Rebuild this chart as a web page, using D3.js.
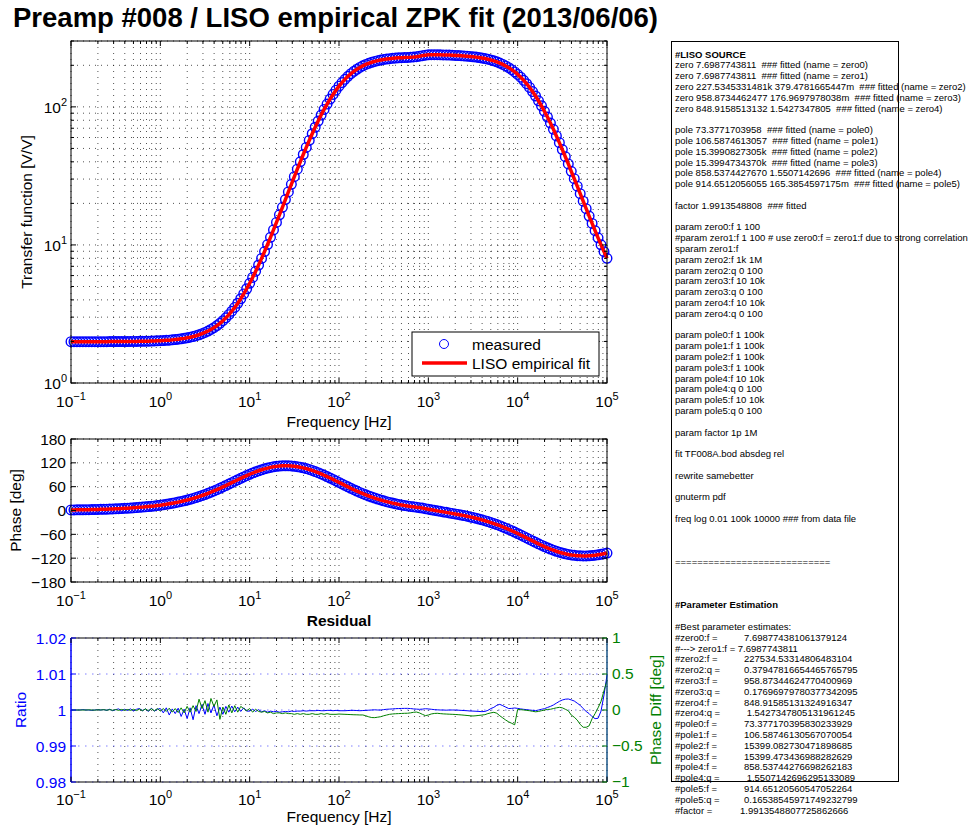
<!DOCTYPE html>
<html>
<head>
<meta charset="utf-8">
<script src="https://cdn.jsdelivr.net/npm/d3@7"></script>
<style>
  body { margin: 0; background: #fff; }
  svg { display: block; }
</style>
</head>
<body>
<script>
// frequency sweep [Hz], 30 points per decade
const freq = [
  0.1, 0.108, 0.1166, 0.1259, 0.1359, 0.1468, 0.1585, 0.1711, 0.1848, 0.1995,
  0.2154, 0.2326, 0.2512, 0.2712, 0.2929, 0.3162, 0.3415, 0.3687, 0.3981, 0.4299,
  0.4642, 0.5012, 0.5412, 0.5843, 0.631, 0.6813, 0.7356, 0.7943, 0.8577, 0.9261,
  1, 1.08, 1.166, 1.259, 1.359, 1.468, 1.585, 1.711, 1.848, 1.995,
  2.154, 2.326, 2.512, 2.712, 2.929, 3.162, 3.415, 3.687, 3.981, 4.299,
  4.642, 5.012, 5.412, 5.843, 6.31, 6.813, 7.356, 7.943, 8.577, 9.261,
  10, 10.8, 11.66, 12.59, 13.59, 14.68, 15.85, 17.11, 18.48, 19.95,
  21.54, 23.26, 25.12, 27.12, 29.29, 31.62, 34.15, 36.87, 39.81, 42.99,
  46.42, 50.12, 54.12, 58.43, 63.1, 68.13, 73.56, 79.43, 85.77, 92.61,
  100, 108, 116.6, 125.9, 135.9, 146.8, 158.5, 171.1, 184.8, 199.5,
  215.4, 232.6, 251.2, 271.2, 292.9, 316.2, 341.5, 368.7, 398.1, 429.9,
  464.2, 501.2, 541.2, 584.3, 631, 681.3, 735.6, 794.3, 857.7, 926.1,
  1000, 1080, 1166, 1259, 1359, 1468, 1585, 1711, 1848, 1995,
  2154, 2326, 2512, 2712, 2929, 3162, 3415, 3687, 3981, 4299,
  4642, 5012, 5412, 5843, 6310, 6813, 7356, 7943, 8577, 9261,
  10000, 10800, 11660, 12590, 13590, 14680, 15850, 17110, 18480, 19950,
  21540, 23260, 25120, 27120, 29290, 31620, 34150, 36870, 39810, 42990,
  46420, 50120, 54120, 58430, 63100, 68130, 73560, 79430, 85770, 92610,
  100000
];

// transfer function magnitude [V/V]
const magnitude = [
  1.992, 1.992, 1.992, 1.992, 1.992, 1.992, 1.992, 1.992, 1.992, 1.993,
  1.993, 1.993, 1.993, 1.994, 1.994, 1.995, 1.995, 1.996, 1.997, 1.998,
  1.999, 2.000, 2.001, 2.003, 2.005, 2.007, 2.009, 2.012, 2.016, 2.020,
  2.025, 2.030, 2.037, 2.044, 2.053, 2.063, 2.075, 2.089, 2.105, 2.124,
  2.146, 2.172, 2.201, 2.236, 2.277, 2.324, 2.379, 2.443, 2.518, 2.605,
  2.707, 2.825, 2.963, 3.123, 3.310, 3.528, 3.781, 4.075, 4.417, 4.815,
  5.277, 5.813, 6.435, 7.156, 7.991, 8.957, 10.07, 11.36, 12.84, 14.55,
  16.51, 18.74, 21.30, 24.20, 27.49, 31.20, 35.37, 40.02, 45.19, 50.88,
  57.12, 63.90, 71.20, 78.99, 87.23, 95.83, 104.7, 113.8, 123.0, 132.2,
  141.2, 150.0, 158.4, 166.4, 173.9, 180.8, 187.2, 193.0, 198.2, 202.8,
  206.8, 210.4, 213.5, 216.2, 218.5, 220.5, 222.1, 223.5, 224.7, 225.7,
  226.5, 227.2, 227.7, 228.3, 228.9, 229.8, 231.1, 232.9, 235.0, 236.9,
  238.2, 238.8, 238.9, 238.7, 238.4, 238.0, 237.6, 237.1, 236.6, 236.0,
  235.4, 234.7, 233.9, 233.0, 231.9, 230.7, 229.3, 227.8, 225.9, 223.8,
  221.4, 218.6, 215.4, 211.8, 207.7, 203.1, 198.0, 192.3, 186.0, 179.2,
  171.9, 164.1, 155.8, 147.1, 138.2, 129.1, 119.9, 110.7, 101.7, 92.86,
  84.39, 76.32, 68.72, 61.62, 55.06, 49.04, 43.56, 38.60, 34.15, 30.17,
  26.64, 23.50, 20.74, 18.31, 16.18, 14.32, 12.69, 11.26, 10.02, 8.940,
  7.995
];

// phase [deg]
const phase = [
  1.4, 1.5, 1.6, 1.7, 1.8, 2.0, 2.1, 2.3, 2.5, 2.7,
  2.9, 3.1, 3.4, 3.7, 4.0, 4.3, 4.6, 5.0, 5.4, 5.8,
  6.3, 6.8, 7.3, 7.9, 8.5, 9.2, 9.9, 10.7, 11.5, 12.5,
  13.4, 14.5, 15.6, 16.9, 18.2, 19.6, 21.1, 22.7, 24.5, 26.3,
  28.3, 30.5, 32.7, 35.1, 37.7, 40.3, 43.2, 46.1, 49.3, 52.5,
  55.8, 59.3, 62.8, 66.4, 70.1, 73.7, 77.4, 81.0, 84.5, 87.9,
  91.2, 94.4, 97.3, 100.0, 102.5, 104.8, 106.8, 108.5, 109.9, 111.1,
  111.9, 112.4, 112.6, 112.5, 112.1, 111.3, 110.3, 109.0, 107.4, 105.5,
  103.3, 100.8, 98.1, 95.2, 92.1, 88.8, 85.4, 81.8, 78.2, 74.4,
  70.7, 66.9, 63.2, 59.5, 55.8, 52.3, 48.9, 45.6, 42.4, 39.4,
  36.5, 33.8, 31.2, 28.8, 26.5, 24.3, 22.3, 20.4, 18.6, 17.0,
  15.4, 14.0, 12.6, 11.4, 10.3, 9.3, 8.3, 7.2, 6.1, 4.7,
  3.3, 1.9, 0.5, -0.9, -2.2, -3.5, -4.7, -6.0, -7.3, -8.6,
  -10.0, -11.4, -12.9, -14.4, -16.1, -17.8, -19.6, -21.5, -23.5, -25.7,
  -27.9, -30.3, -32.9, -35.5, -38.3, -41.3, -44.4, -47.6, -50.9, -54.4,
  -57.9, -61.6, -65.3, -69.0, -72.8, -76.5, -80.2, -83.9, -87.4, -90.8,
  -94.0, -97.1, -99.9, -102.6, -105.0, -107.1, -109.0, -110.6, -111.9, -112.9,
  -113.7, -114.1, -114.3, -114.3, -113.9, -113.4, -112.6, -111.5, -110.3, -108.8,
  -107.2
];

// residual: measured / fit
const ratio = [
  1, 1, 1, 1, 1.0001, 1, 1, 0.9999, 1, 1.0001,
  1, 1.0001, 0.9999, 1.0002, 0.9998, 1.0001, 1.0003, 0.9998, 1.0002, 0.9999,
  1.0003, 0.9997, 1.0002, 1.0004, 0.9998, 1.0003, 0.9996, 1.0005, 0.9997, 1.0002,
  1.0004, 0.9992, 1.0006, 0.9986, 1.0003, 0.999, 1.0005, 0.9982, 1.0002, 0.9976,
  1.0006, 0.9973, 1.0012, 0.999, 1.0015, 0.9988, 1.0018, 0.9992, 1.0014, 0.9984,
  1.0008, 0.9988, 1.001, 0.9994, 1.0011, 0.9995, 1.0008, 0.9996, 1.0006, 0.9997,
  0.9997, 1.0002, 0.9996, 1.0001, 0.9995, 0.9998, 0.9994, 0.9997, 0.9995, 0.9996,
  0.9994, 0.9995, 0.9996, 0.9995, 0.9997, 0.9996, 0.9997, 0.9997, 0.9998, 0.9997,
  0.9998, 0.9998, 0.9998, 0.9999, 0.9998, 0.9998, 0.9999, 0.9999, 0.9998, 0.9999,
  0.9998, 0.9998, 0.9998, 0.99985, 0.9999, 0.9999, 0.99985, 0.9998, 0.99985, 0.9999,
  0.99995, 1, 1.00005, 1, 1, 1.0001, 1.0002, 1.00025, 1.0003, 1.00037,
  1.0004, 1.00043, 1.00045, 1.00046, 1.0004, 1.0003, 1.00025, 1.00019, 1.00025, 1.00035,
  1.0003, 1.0002, 1.0001, 1.00005, 1, 1, 0.99995, 1, 1, 1,
  0.99995, 0.9999, 0.99985, 0.9998, 0.99972, 0.9997, 0.99965, 0.9996, 0.99954, 0.9996,
  0.9999, 1.0004, 1.00074, 1.0013, 1.00157, 1.0012, 1.0008, 1.0004, 1.00045, 1.00056,
  1.00045, 1.0003, 1.00019, 1.0001, 1, 0.9999, 0.99981, 1, 1.0002, 1.00037,
  1.0007, 1.001, 1.00139, 1.0019, 1.0024, 1.00278, 1.003, 1.00306, 1.0028, 1.0025,
  1.0019, 1.0013, 1.0004, 0.9996, 0.999, 0.99815, 0.9976, 0.9977, 0.9997, 1.0042,
  1.0097
];

// residual: phase difference [deg]
const phaseDiff = [
  0, 0, 0, 0, 0, 0, 0.002, 0, -0.002, 0.003,
  0, 0.004, -0.003, 0.005, -0.004, 0.006, -0.005, 0.008, -0.004, 0.007,
  -0.006, 0.01, -0.008, 0.012, -0.01, 0.015, -0.01, 0.018, -0.012, 0.02,
  -0.015, 0.02, -0.02, 0.025, -0.03, 0.02, -0.035, 0.03, -0.04, 0.05,
  -0.03, 0.06, -0.02, 0.15, 0.02, 0.13, -0.03, 0.16, 0.05, 0.14,
  -0.13, 0.04, -0.06, 0.07, -0.04, 0.06, -0.03, 0.05, 0.02, -0.01,
  0.02, -0.03, 0.01, -0.02, -0.03, -0.02, -0.04, -0.03, -0.05, -0.04,
  -0.04, -0.05, -0.04, -0.05, -0.05, -0.06, -0.05, -0.06, -0.05, -0.06,
  -0.06, -0.05, -0.06, -0.06, -0.05, -0.06, -0.05, -0.06, -0.06, -0.06,
  -0.056, -0.058, -0.06, -0.062, -0.064, -0.066, -0.067, -0.069, -0.069, -0.08,
  -0.095, -0.105, -0.106, -0.1, -0.093, -0.08, -0.07, -0.06, -0.055, -0.052,
  -0.05, -0.048, -0.046, -0.045, -0.04, -0.032, -0.028, -0.04, -0.06, -0.078,
  -0.07, -0.055, -0.048, -0.046, -0.05, -0.054, -0.056, -0.058, -0.06, -0.062,
  -0.065, -0.068, -0.072, -0.076, -0.08, -0.083, -0.08, -0.075, -0.07, -0.065,
  -0.05, -0.04, -0.032, -0.045, -0.08, -0.11, -0.14, -0.165, -0.185, -0.205,
  0.009, 0.005, 0, -0.005, -0.01, -0.018, -0.025, -0.02, -0.01, 0,
  0.008, 0.01, 0.02, 0.03, 0.037, 0.03, 0.01, -0.01, -0.07, -0.1,
  -0.14, -0.2, -0.24, -0.24, -0.22, -0.12, -0.05, 0.03, 0.12, 0.27,
  0.41
];

const magTicks = [1, 10, 100];
const phaseTicks = [-180, -120, -60, 0, 60, 120, 180];
const ratioTicks = [0.98, 0.99, 1, 1.01, 1.02];
const ratioTickLabels = ["0.98", "0.99", "1", "1.01", "1.02"];
const diffTicks = [-1, -0.5, 0, 0.5, 1];
const diffTickLabels = ["\u22121", "\u22120.5", "0", "0.5", "1"];

const sourceLines = [
  "#LISO SOURCE",
  "zero 7.6987743811  ### fitted (name = zero0)",
  "zero 7.6987743811  ### fitted (name = zero1)",
  "zero 227.5345331481k 379.4781665447m  ### fitted (name = zero2)",
  "zero 958.8734462477 176.9697978038m  ### fitted (name = zero3)",
  "zero 848.9158513132 1.5427347805  ### fitted (name = zero4)",
  "",
  "pole 73.3771703958  ### fitted (name = pole0)",
  "pole 106.5874613057  ### fitted (name = pole1)",
  "pole 15.3990827305k  ### fitted (name = pole2)",
  "pole 15.3994734370k  ### fitted (name = pole3)",
  "pole 858.5374427670 1.5507142696  ### fitted (name = pole4)",
  "pole 914.6512056055 165.3854597175m  ### fitted (name = pole5)",
  "",
  "factor 1.9913548808  ### fitted",
  "",
  "param zero0:f 1 100",
  "#param zero1:f 1 100 # use zero0:f = zero1:f due to strong correlation",
  "sparam zero1:f",
  "param zero2:f 1k 1M",
  "param zero2:q 0 100",
  "param zero3:f 10 10k",
  "param zero3:q 0 100",
  "param zero4:f 10 10k",
  "param zero4:q 0 100",
  "",
  "param pole0:f 1 100k",
  "param pole1:f 1 100k",
  "param pole2:f 1 100k",
  "param pole3:f 1 100k",
  "param pole4:f 10 10k",
  "param pole4:q 0 100",
  "param pole5:f 10 10k",
  "param pole5:q 0 100",
  "",
  "param factor 1p 1M",
  "",
  "fit TF008A.bod absdeg rel",
  "",
  "rewrite samebetter",
  "",
  "gnuterm pdf",
  "",
  "freq log 0.01 100k 10000 ### from data file",
  "",
  "",
  "",
  "============================",
  "",
  "",
  "",
  "#Parameter Estimation",
  "",
  "#Best parameter estimates:"
];
const boldLines = ["#LISO SOURCE", "#Parameter Estimation"];

const estimateNames = ["#zero0:f =", "#---> zero1:f = 7.6987743811", "#zero2:f =", "#zero2:q =",
  "#zero3:f =", "#zero3:q =", "#zero4:f =", "#zero4:q =", "#pole0:f =", "#pole1:f =",
  "#pole2:f =", "#pole3:f =", "#pole4:f =", "#pole4:q =", "#pole5:f =", "#pole5:q =", "#factor ="];
const estimateValues = ["7.698774381061379124", "", "227534.53314806483104", "0.37947816654465765795",
  "958.87344624770400969", "0.17696979780377342095", "848.91585131324916347", " 1.5427347805131961245",
  "73.377170395830233929", "106.58746130567070054", "15399.082730471898685", "15399.473436988282629",
  "858.53744276698262183", " 1.5507142696295133089", "914.65120560547052264", "0.16538545971749232799",
  "1.9913548807725862666"];

// ---------------------------------------------------------------
const W = 968, H = 825;
const left = 71, right = 607;
const magBox = {top: 41, bottom: 383};
const phBox = {top: 439, bottom: 582};
const resBox = {top: 638, bottom: 782};
const FONT = "'Liberation Sans', Arial, Helvetica, sans-serif";
const fs = 15.5;
const BLUE = "#0000ff", RED = "#ff0000", GREEN = "#008000";

const svg = d3.select("body").append("svg")
    .attr("width", W)
    .attr("height", H)
    .style("font-family", FONT);

const x = d3.scaleLog().domain([0.1, 1e5]).range([left, right]);
const xAll = x.ticks();
const xMajor = xAll.filter(d => Math.abs(Math.log10(d) - Math.round(Math.log10(d))) < 1e-9);

const yMag = d3.scaleLog().domain([1, 300]).range([magBox.bottom, magBox.top]);
const yPh = d3.scaleLinear().domain([-180, 180]).range([phBox.bottom, phBox.top]);
const yRatio = d3.scaleLinear().domain([0.98, 1.02]).range([resBox.bottom, resBox.top]);
const yDiff = d3.scaleLinear().domain([-1, 1]).range([resBox.bottom, resBox.top]);

const pts = freq.map((f, i) => ({f, mag: magnitude[i], ph: phase[i], r: ratio[i], d: phaseDiff[i]}));

function isMajor(d) { return xMajor.includes(d); }

function expLabel(sel, e) {
    sel.append("tspan").text("10");
    sel.append("tspan").attr("font-size", 11).attr("dy", -7).text(e < 0 ? "\u2212" + (-e) : e);
}

// dotted grid
function vGrid(g, box) {
    g.append("g").selectAll("line").data(xAll).join("line")
        .attr("x1", d => x(d)).attr("x2", d => x(d))
        .attr("y1", box.top).attr("y2", box.bottom)
        .attr("stroke", "#000").attr("stroke-width", 0.9)
        .attr("stroke-dasharray", "1,5").attr("opacity", 0.75);
}
function hGrid(g, vals, y, color, dash) {
    g.append("g").selectAll("line").data(vals).join("line")
        .attr("x1", left).attr("x2", right)
        .attr("y1", d => y(d)).attr("y2", d => y(d))
        .attr("stroke", color).attr("stroke-width", 0.9)
        .attr("stroke-dasharray", dash).attr("opacity", 0.75);
}

// x ticks, top and bottom, plus labels
function xAxis(g, box, labelY) {
    g.append("g").selectAll("path").data(xAll).join("path")
        .attr("d", d => {
            const l = isMajor(d) ? 5 : 3;
            return `M${x(d)},${box.bottom}v${-l}M${x(d)},${box.top}v${l}`;
        })
        .attr("stroke", "#000").attr("stroke-width", 1);
    g.append("g").selectAll("text").data(xMajor).join("text")
        .attr("x", d => x(d)).attr("y", labelY)
        .attr("text-anchor", "middle").attr("font-size", fs)
        .each(function(d) { expLabel(d3.select(this), Math.round(Math.log10(d))); });
}

function yTickMarks(g, vals, y, side, color, major) {
    g.append("g").selectAll("path").data(vals).join("path")
        .attr("d", d => {
            const l = major(d) ? 5 : 3;
            return side === "left" ? `M${left},${y(d)}h${l}` : `M${right},${y(d)}h${-l}`;
        })
        .attr("stroke", color).attr("stroke-width", 1);
}

function xLabel(text, yy) {
    svg.append("text").attr("x", (left + right) / 2).attr("y", yy)
        .attr("text-anchor", "middle").attr("font-size", fs).text(text);
}
function yLabel(text, xx, cy, color) {
    svg.append("text").attr("transform", `translate(${xx},${cy}) rotate(-90)`)
        .attr("text-anchor", "middle").attr("font-size", fs)
        .attr("fill", color || "#000").text(text);
}

// title
svg.append("text").attr("x", 13).attr("y", 27)
    .attr("font-size", 27.5).attr("font-weight", "bold")
    .text("Preamp #008 / LISO empirical ZPK fit (2013/06/06)");

// ---------------- magnitude ----------------
const gMag = svg.append("g");
vGrid(gMag, magBox);
hGrid(gMag, yMag.ticks(), yMag, "#000", "1,5");

gMag.append("g").selectAll("circle").data(pts).join("circle")
    .attr("cx", d => x(d.f)).attr("cy", d => yMag(d.mag)).attr("r", 4.8)
    .attr("fill", "none").attr("stroke", BLUE).attr("stroke-width", 1.4);
gMag.append("path").datum(pts)
    .attr("d", d3.line().x(d => x(d.f)).y(d => yMag(d.mag)))
    .attr("fill", "none").attr("stroke", RED).attr("stroke-width", 3.5);

gMag.append("rect").attr("x", left).attr("y", magBox.top)
    .attr("width", right - left).attr("height", magBox.bottom - magBox.top)
    .attr("fill", "none").attr("stroke", "#000").attr("stroke-width", 1);
xAxis(gMag, magBox, magBox.bottom + 24);
const magAll = yMag.ticks();
yTickMarks(gMag, magAll, yMag, "left", "#000", d => magTicks.includes(d));
yTickMarks(gMag, magAll, yMag, "right", "#000", d => magTicks.includes(d));
gMag.append("g").selectAll("text").data(magTicks).join("text")
    .attr("x", 67).attr("y", d => yMag(d) + 6)
    .attr("text-anchor", "end").attr("font-size", fs)
    .each(function(d) { expLabel(d3.select(this), Math.round(Math.log10(d))); });
xLabel("Frequency [Hz]", 427);
yLabel("Transfer function [V/V]", 32, (magBox.top + magBox.bottom) / 2);

// legend
const lg = gMag.append("g");
lg.append("rect").attr("x", 412).attr("y", 332).attr("width", 187).attr("height", 44)
    .attr("fill", "#fff").attr("stroke", "#000").attr("stroke-width", 1);
lg.append("circle").attr("cx", 444).attr("cy", 344).attr("r", 4.5)
    .attr("fill", "none").attr("stroke", BLUE).attr("stroke-width", 1);
lg.append("line").attr("x1", 422).attr("x2", 467).attr("y1", 363).attr("y2", 363)
    .attr("stroke", RED).attr("stroke-width", 3.5);
lg.append("text").attr("x", 472).attr("y", 349.5).attr("font-size", fs).text("measured");
lg.append("text").attr("x", 472).attr("y", 368.5).attr("font-size", fs).text("LISO empirical fit");

// ---------------- phase ----------------
const gPh = svg.append("g");
vGrid(gPh, phBox);
hGrid(gPh, phaseTicks, yPh, "#000", "1,5");
gPh.append("g").selectAll("circle").data(pts).join("circle")
    .attr("cx", d => x(d.f)).attr("cy", d => yPh(d.ph)).attr("r", 4.8)
    .attr("fill", "none").attr("stroke", BLUE).attr("stroke-width", 1.4);
gPh.append("path").datum(pts)
    .attr("d", d3.line().x(d => x(d.f)).y(d => yPh(d.ph)))
    .attr("fill", "none").attr("stroke", RED).attr("stroke-width", 3.5);
gPh.append("rect").attr("x", left).attr("y", phBox.top)
    .attr("width", right - left).attr("height", phBox.bottom - phBox.top)
    .attr("fill", "none").attr("stroke", "#000").attr("stroke-width", 1);
xAxis(gPh, phBox, phBox.bottom + 24);
yTickMarks(gPh, phaseTicks, yPh, "left", "#000", () => true);
yTickMarks(gPh, phaseTicks, yPh, "right", "#000", () => true);
gPh.append("g").selectAll("text").data(phaseTicks).join("text")
    .attr("x", 66).attr("y", d => yPh(d) + 5.5)
    .attr("text-anchor", "end").attr("font-size", fs)
    .text(d => d < 0 ? "\u2212" + (-d) : d);
yLabel("Phase [deg]", 21, (phBox.top + phBox.bottom) / 2);

// ---------------- residual ----------------
svg.append("text").attr("x", (left + right) / 2).attr("y", 626)
    .attr("text-anchor", "middle").attr("font-size", fs).attr("font-weight", "bold")
    .text("Residual");
const gRes = svg.append("g");
vGrid(gRes, resBox);
hGrid(gRes, ratioTicks, yRatio, "#4444ff", "1.5,5.5");
gRes.append("path").datum(pts)
    .attr("d", d3.line().x(d => x(d.f)).y(d => yRatio(d.r)))
    .attr("fill", "none").attr("stroke", BLUE).attr("stroke-width", 1);
gRes.append("path").datum(pts)
    .attr("d", d3.line().x(d => x(d.f)).y(d => yDiff(d.d)))
    .attr("fill", "none").attr("stroke", GREEN).attr("stroke-width", 1);
// frame: black top/bottom, blue left, green right
gRes.append("path").attr("d", `M${left},${resBox.top}H${right}M${left},${resBox.bottom}H${right}`)
    .attr("stroke", "#000").attr("stroke-width", 1);
gRes.append("path").attr("d", `M${left},${resBox.top}V${resBox.bottom}`)
    .attr("stroke", BLUE).attr("stroke-width", 1.5);
gRes.append("path").attr("d", `M${right},${resBox.top}V${resBox.bottom}`)
    .attr("stroke", BLUE).attr("stroke-width", 1);
gRes.append("path").attr("d", `M${right},${resBox.top}V${resBox.bottom}`)
    .attr("stroke", GREEN).attr("stroke-width", 1).attr("opacity", 0.7);
xAxis(gRes, resBox, resBox.bottom + 23);
yTickMarks(gRes, ratioTicks, yRatio, "left", BLUE, () => true);
yTickMarks(gRes, diffTicks, yDiff, "right", GREEN, () => true);
gRes.append("g").selectAll("text").data(ratioTicks).join("text")
    .attr("x", 66).attr("y", d => yRatio(d) + 5.5)
    .attr("text-anchor", "end").attr("font-size", fs).attr("fill", BLUE)
    .text((d, i) => ratioTickLabels[i]);
gRes.append("g").selectAll("text").data(diffTicks).join("text")
    .attr("x", 612).attr("y", d => yDiff(d) + 4.5)
    .attr("text-anchor", "start").attr("font-size", fs).attr("fill", GREEN)
    .text((d, i) => diffTickLabels[i]);
xLabel("Frequency [Hz]", 821.5);
yLabel("Ratio", 26, (resBox.top + resBox.bottom) / 2, BLUE);
yLabel("Phase Diff [deg]", 661, (resBox.top + resBox.bottom) / 2, GREEN);

// ---------------- LISO source panel ----------------
const lineY = i => 57.5 + i * 10.8;
const gTxt = svg.append("g").attr("font-size", 9.5);
gTxt.selectAll("text.src").data(sourceLines).join("text")
    .attr("class", "src")
    .attr("xml:space", "preserve")
    .attr("x", 675).attr("y", (d, i) => lineY(i))
    .attr("font-weight", d => boldLines.includes(d) ? "bold" : null)
    .text(d => d);
const estStart = sourceLines.length;
gTxt.selectAll("text.est").data(estimateNames).join("text")
    .attr("class", "est")
    .attr("x", 675).attr("y", (d, i) => lineY(estStart + i))
    .text(d => d);
gTxt.selectAll("text.val").data(estimateValues).join("text")
    .attr("class", "val")
    .attr("xml:space", "preserve")
    .attr("x", (d, i) => i === estimateValues.length - 1 ? 740 : 744)
    .attr("y", (d, i) => lineY(estStart + i))
    .text(d => d);
svg.append("rect").attr("x", 671.5).attr("y", 41.5).attr("width", 227).attr("height", 740)
    .attr("fill", "none").attr("stroke", "#000").attr("stroke-width", 1);
</script>
</body>
</html>
